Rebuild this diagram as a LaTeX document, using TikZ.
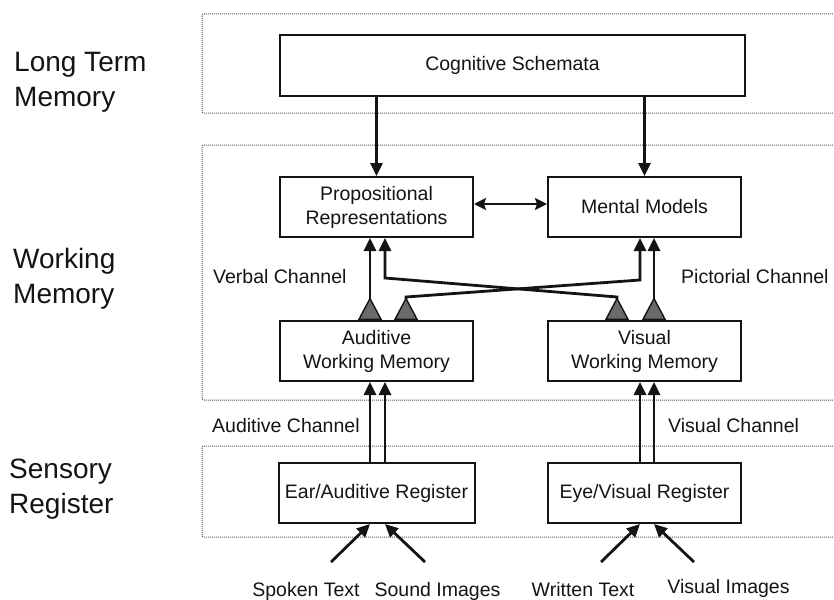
\documentclass[tikz,border=0pt]{standalone}
\usepackage{fontspec}
\setsansfont{Liberation Sans}
\usepackage{xcolor}
\definecolor{lineBlack}{HTML}{141414}
\definecolor{tailGray}{HTML}{6A6A6A}
\definecolor{frameGray}{HTML}{5A5A5A}
\usepackage{tikz}
\usetikzlibrary{
    arrows.meta,
    positioning
}
\tikzset{
    % Base style for all texts
    mayer base/.style={
        font=\sffamily\fontsize{19.5}{24}\selectfont,
        align=center,
        text=lineBlack,
    },
    % Dotted frame round each memory store
    memory store/.style={
        draw=frameGray,
        densely dotted,
        line width=1pt,
        rounded corners=2pt,
    },
    % Store names on the left
    store label/.style={
        font=\sffamily\fontsize{28}{35}\selectfont,
        align=left,
        text=lineBlack,
        anchor=west,
        inner sep=0pt,
    },
    % Boxes inside the stores
    process/.style={
        mayer base,
        rectangle,
        draw=lineBlack,
        line width=2pt,
        fill=white,
        minimum width=193pt,
        minimum height=60pt,
        inner sep=2pt,
    },
    % Channel names
    channel label/.style={
        mayer base,
        anchor=base west,
        inner sep=0pt,
    },
    % Input names at the bottom
    input label/.style={
        mayer base,
        anchor=base,
        inner sep=0pt,
    },
    % Plain arrow
    arrow/.style={
        -{Triangle[length=13pt, width=12pt]},
        line width=2.8pt,
        draw=lineBlack,
    },
    % Arrow with two heads
    arrow both/.style={
        {Stealth[length=12pt, width=12pt, inset=2pt]}-{Stealth[length=12pt, width=12pt, inset=2pt]},
        line width=2.2pt,
        draw=lineBlack,
    },
    % Arrow leaving a working memory, gray triangle at its start
    arrow channel/.style={
        arrow,
        {Triangle[reversed, length=23pt, width=24pt, fill=tailGray, line width=1.4pt]}-{Triangle[length=13pt, width=12pt]},
    },
}

\begin{document}
\begin{tikzpicture}[x=1pt, y=-1pt]
    \useasboundingbox (0,0) rectangle (834,599);

    % memory stores
    \draw [memory store] (202,14) rectangle (845,113);
    \draw [memory store] (202,145) rectangle (845,400);
    \draw [memory store] (202,446) rectangle (845,537);
    \node (ltm) [store label] at (14,82) {Long Term\\Memory};
    \node (wm) [store label] at (13,279) {Working\\Memory};
    \node (sr) [store label] at (9,489) {Sensory\\Register};

    \node (schema) [process, minimum width=465pt, minimum height=61pt] at (512.5,65.5) {Cognitive Schemata};
    \node (prop) [process] at (376.5,207) {Propositional\\Representations};
    \node (mental) [process, right=73pt of prop] {Mental Models};
    \node (audwm) [process, below=82pt of prop] {Auditive\\Working Memory};
    \node (viswm) [process, below=82pt of mental] {Visual\\Working Memory};
    \node (earreg) [process, minimum width=196pt, below=80pt of audwm] {Ear/Auditive Register};
    \node (eyereg) [process, below=80pt of viswm] {Eye/Visual Register};

    \node (verbal) [channel label] at (213,283) {Verbal Channel};
    \node (pictorial) [channel label] at (681,283) {Pictorial Channel};
    \node (auditive) [channel label] at (212,432) {Auditive Channel};
    \node (visual) [channel label] at (668,432) {Visual Channel};

    \node (spoken) [input label] at (306,596) {Spoken Text};
    \node (sound) [input label] at (437.5,596) {Sound Images};
    \node (written) [input label] at (583,596) {Written Text};
    \node (images) [input label] at (728.5,593) {Visual Images};

    % x places of the channel lines
    \coordinate (vleft) at (370,0);
    \coordinate (vright) at (385,0);
    \coordinate (vcross) at (406,0);
    \coordinate (pcross) at (617,0);
    \coordinate (pleft) at (640,0);
    \coordinate (pright) at (654,0);
    \coordinate (vbend) at (385,278);
    \coordinate (pbend) at (640,280);
    \coordinate (spokenin) at (331,562);
    \coordinate (soundin) at (425,562);
    \coordinate (writtenin) at (601,562);
    \coordinate (imagesin) at (694,562);

    \draw [arrow] (schema.south -| prop) -- (prop);
    \draw [arrow] (schema.south -| mental) -- (mental);
    \draw [arrow both] ([yshift=3pt]prop.east) -- ([yshift=3pt]mental.west);

    \draw [arrow channel] (audwm.north -| vleft) -- (prop.south -| vleft);
    \draw [arrow channel] (audwm.north -| vcross) -- ++(0,-23) -- (pbend) -- (mental.south -| pleft);
    \draw [arrow channel] (viswm.north -| pcross) -- ++(0,-23) -- (vbend) -- (prop.south -| vright);
    \draw [arrow channel] (viswm.north -| pright) -- (mental.south -| pright);

    \draw [arrow] (earreg.north -| vleft) -- (audwm.south -| vleft);
    \draw [arrow] (earreg.north -| vright) -- (audwm.south -| vright);
    \draw [arrow] (eyereg.north -| pleft) -- (viswm.south -| pleft);
    \draw [arrow] (eyereg.north -| pright) -- (viswm.south -| pright);

    \draw [arrow] (spokenin) -- (earreg.south -| vleft);
    \draw [arrow] (soundin) -- (earreg.south -| vright);
    \draw [arrow] (writtenin) -- (eyereg.south -| pleft);
    \draw [arrow] (imagesin) -- (eyereg.south -| pright);
\end{tikzpicture}
\end{document}
